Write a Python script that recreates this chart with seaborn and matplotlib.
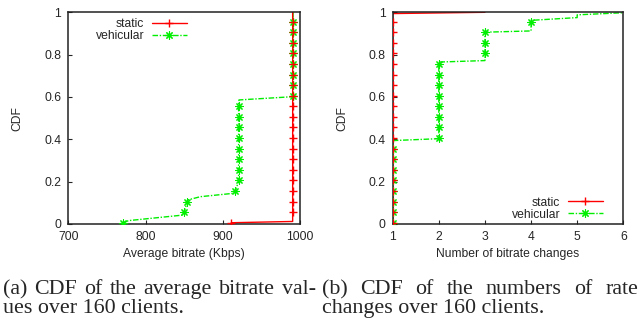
import matplotlib
matplotlib.use("Agg")
import matplotlib.pyplot as plt
from matplotlib.lines import Line2D
import seaborn as sns

# --- data ---
# every 8th client of 160 gets a marker (gnuplot pointinterval)
marker_levels = [0.006, 0.056, 0.106, 0.156, 0.206, 0.256, 0.306, 0.356, 0.406, 0.456,
                 0.506, 0.556, 0.606, 0.656, 0.706, 0.756, 0.806, 0.856, 0.906, 0.956]

# (a) average bitrate (Kbps)
rate_static_x = [911, 990.5, 990.5]
rate_static_y = [0.006, 0.012, 1.0]
rate_static_mx = [911] + [990.5] * 19

rate_veh_x = [771, 778, 848, 850, 854, 855, 871, 914, 916, 920.5, 920.5, 921, 989, 991, 991]
rate_veh_y = [0.006, 0.016, 0.042, 0.056, 0.106, 0.114, 0.129, 0.145, 0.156, 0.2, 0.56,
              0.586, 0.601, 0.606, 1.0]
rate_veh_mx = [771, 850, 854, 916] + [920.5] * 8 + [991] * 8

# (b) number of bitrate changes
chg_static_x = [1, 1, 3]
chg_static_y = [0.006, 0.994, 1.0]
chg_static_mx = [1] * 20

chg_veh_x = [1, 1, 2, 2, 3, 3, 4, 4, 5, 5, 6]
chg_veh_y = [0.006, 0.394, 0.403, 0.765, 0.772, 0.906, 0.912, 0.962, 0.975, 0.988, 0.998]
chg_veh_mx = [1] * 8 + [2] * 8 + [3] * 3 + [4]

# captions, one string per printed line
cap_a1 = "(a) CDF of the average bitrate val-"
cap_a2 = "ues over 160 clients."
cap_b1 = "(b) CDF of the numbers of rate"
cap_b2 = "changes over 160 clients."

sns.set_style("white")
plt.rcParams["font.family"] = ["Liberation Sans", "DejaVu Sans"]

RED = "#ff0000"
GREEN = "#00ee00"
ASTER = (8, 2, 0)
VEH_DASH = (4, 1.2, 1, 1.2)
FS = 8.7

fig = plt.figure(figsize=(6.42, 3.22), dpi=100)
ax1 = fig.add_axes([68.3 / 642, 98 / 322, 231.7 / 642, 211.7 / 322])
ax2 = fig.add_axes([392.7 / 642, 98 / 322, 230.6 / 642, 211.7 / 322])


def draw(ax, sx, sy, smx, vx, vy, vmx):
    sns.lineplot(x=vx, y=vy, ax=ax, sort=False, estimator=None, color=GREEN,
                 lw=1, dashes=False, linestyle=(0, VEH_DASH))
    sns.scatterplot(x=vmx, y=marker_levels, ax=ax, marker=ASTER, s=28, color=GREEN,
                    linewidth=0.8, zorder=3)
    sns.lineplot(x=sx, y=sy, ax=ax, sort=False, estimator=None, color=RED, lw=1)
    sns.scatterplot(x=smx, y=marker_levels, ax=ax, marker="+", s=40, color=RED,
                    linewidth=1, zorder=3)
    ax.set_ylim(0, 1)
    ax.set_yticks([0, 0.2, 0.4, 0.6, 0.8, 1])
    ax.set_yticklabels(["0", "0.2", "0.4", "0.6", "0.8", "1"])
    ax.set_ylabel("CDF", fontsize=FS, labelpad=15)
    ax.tick_params(direction="in", length=3, width=0.8, labelsize=FS, pad=5,
                   left=True, bottom=True, top=False, right=False)
    for sp in ax.spines.values():
        sp.set_color("#222222")
        sp.set_linewidth(1.1)


draw(ax1, rate_static_x, rate_static_y, rate_static_mx, rate_veh_x, rate_veh_y, rate_veh_mx)
ax1.set_xlim(700, 1000)
ax1.set_xticks([700, 800, 900, 1000])
ax1.set_xlabel("Average bitrate (Kbps)", fontsize=FS, labelpad=4)

draw(ax2, chg_static_x, chg_static_y, chg_static_mx, chg_veh_x, chg_veh_y, chg_veh_mx)
ax2.set_xlim(1, 6)
ax2.set_xticks([1, 2, 3, 4, 5, 6])
ax2.set_xlabel("Number of bitrate changes", fontsize=FS, labelpad=4)

handles = [
    Line2D([], [], color=RED, lw=1, marker="+", ms=6, mew=1),
    Line2D([], [], color=GREEN, lw=1, linestyle=(0, VEH_DASH), marker=ASTER, ms=6, mew=0.8),
]
labels = ["static", "vehicular"]
leg_kw = dict(frameon=False, markerfirst=False, fontsize=FS, handlelength=2.9,
              handletextpad=0.6, labelspacing=0.0, borderpad=0.2,
              bbox_transform=fig.transFigure)
ax1.legend(handles, labels, loc="upper right",
           bbox_to_anchor=(195 / 642, 1 - 10 / 322), **leg_kw)
ax2.legend(handles, labels, loc="lower right",
           bbox_to_anchor=(611 / 642, 1 - 229 / 322), **leg_kw)
for ax in (ax1, ax2):
    ax.get_legend().set_zorder(5)

# captions: first lines justified across the column, last lines left aligned
cap = dict(family=["Liberation Serif", "DejaVu Serif"], fontsize=15.8, ha="left",
           va="baseline", transform=None)
renderer = fig.canvas.get_renderer()


def justified(line, x0, x1, base):
    words = line.split()
    texts = [fig.text(0, 322 - base, w, **cap) for w in words]
    widths = [t.get_window_extent(renderer).width for t in texts]
    gap = (x1 - x0 - sum(widths)) / (len(words) - 1)
    x = x0
    for t, w in zip(texts, widths):
        t.set_x(x)
        x += w + gap


justified(cap_a1, 3, 316, 294)
fig.text(3, 322 - 313, cap_a2, **cap)
justified(cap_b1, 322, 638, 294)
fig.text(322, 322 - 313, cap_b2, **cap)

fig.savefig("out.png", dpi=100)
